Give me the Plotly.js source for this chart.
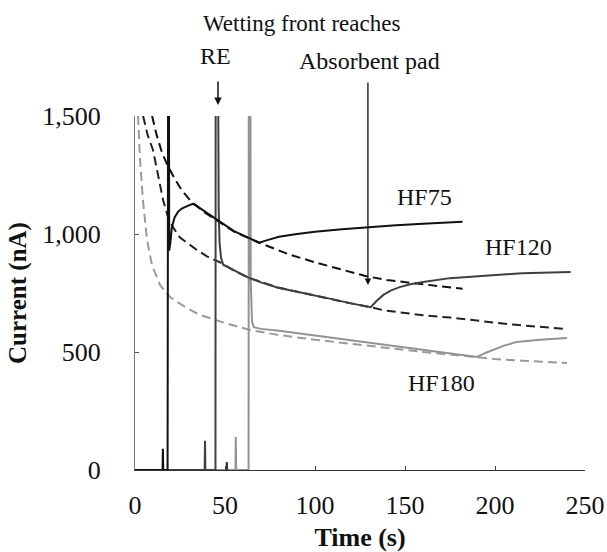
<!DOCTYPE html>
<html>
<head>
<meta charset="utf-8">
<script src="https://cdn.plot.ly/plotly-3.0.1.min.js"></script>
<style>html,body{margin:0;padding:0;background:#fff}#chart{width:607px;height:552px}</style>
</head>
<body>
<div id="chart"></div>
<script>
// ---- measured currents (nA) vs time (s) ----
const hf75Time = [0, 15.3, 15.5, 15.7, 18.1, 18.3, 18.6, 19.0, 19.6, 20.5, 22, 24, 26, 28, 30, 32, 34, 38, 45, 55, 62, 69, 74, 80, 90, 100, 115, 128, 145, 160, 174, 182];
const hf75Current = [0, 0, 90, 0, 0, 3000, 3000, 930, 960, 1030, 1070, 1095, 1108, 1115, 1120, 1128, 1120, 1100, 1062, 1012, 988, 963, 975, 988, 1000, 1010, 1020, 1028, 1037, 1043, 1048, 1052];

const hf120Time = [0, 38.7, 38.9, 39.1, 44.7, 44.9, 45.4, 46.0, 46.5, 47.0, 47.8, 49, 55, 63, 70, 79, 90, 100, 110, 120, 131, 134, 138, 142, 147, 153, 160, 175, 195, 215, 242];
const hf120Current = [0, 0, 124, 0, 0, 3000, 3000, 1500, 1100, 960, 900, 870, 845, 815, 795, 773, 755, 740, 723, 706, 690, 715, 742, 760, 775, 787, 797, 813, 825, 834, 839];

const hf180Time = [0, 55.8, 56.0, 56.2, 63.1, 63.3, 63.8, 64.3, 65, 66, 70, 80, 100, 130, 160, 180, 190, 195, 200, 205, 212, 225, 240];
const hf180Current = [0, 0, 140, 0, 0, 3000, 3000, 800, 630, 605, 598, 590, 570, 540, 510, 490, 479, 497, 513, 527, 542, 552, 559];

const noiseTime = [50.8, 51.0, 51.2];
const noiseCurrent = [0, 34, 0];

// ---- fitted decay curves (dashed) ----
const fit75Time = [9.5, 12, 15, 18, 22, 26, 31, 38, 45, 55, 69, 85, 100, 115, 128, 140, 155, 170, 182];
const fit75Current = [1500, 1420, 1345, 1292, 1235, 1185, 1140, 1095, 1060, 1010, 963, 915, 880, 850, 822, 805, 790, 778, 768];

const fit120Time = [4.5, 7, 10, 13, 15.6, 18, 21, 25, 30, 34.4, 40, 47, 55, 63, 80, 100, 120, 131, 138, 147, 160, 175, 190, 210, 240];
const fit120Current = [1500, 1420, 1356, 1240, 1144, 1080, 1030, 985, 955, 932, 905, 881, 845, 815, 772, 738, 706, 690, 677, 668, 656, 646, 632, 616, 597];

const fit180Time = [1.7, 2.8, 4.4, 6.7, 9.4, 13.9, 19.4, 27.8, 36.1, 50, 63.9, 80, 100, 130, 160, 190, 200, 215, 240];
const fit180Current = [1500, 1313, 1144, 975, 869, 784, 733, 691, 657, 623, 593, 572, 552, 525, 500, 478, 470, 463, 453];

const xTicks = [0, 50, 100, 150, 200, 250];
const yTicks = [0, 500, 1000, 1500];

const serif = 'Liberation Serif, Times New Roman, serif';
const dashStyle = '9px,5px';

const traces = [
  {x: fit180Time, y: fit180Current, mode: 'lines', line: {color: '#9a9a9a', width: 2, dash: dashStyle}},
  {x: fit120Time, y: fit120Current, mode: 'lines', line: {color: '#222222', width: 2, dash: dashStyle}},
  {x: fit75Time, y: fit75Current, mode: 'lines', line: {color: '#111111', width: 2, dash: dashStyle}},
  {x: hf180Time, y: hf180Current, mode: 'lines', line: {color: '#939393', width: 2}},
  {x: noiseTime, y: noiseCurrent, mode: 'lines', line: {color: '#333333', width: 2}},
  {x: hf120Time, y: hf120Current, mode: 'lines', line: {color: '#404040', width: 2}},
  {x: hf75Time, y: hf75Current, mode: 'lines', line: {color: '#111111', width: 2}}
];

const txt = (text, x, y, size, yref) => ({text: text, x: x, y: y, xref: 'x', yref: yref || 'y', showarrow: false,
  font: {family: serif, size: size, color: '#111'}, xanchor: 'center', yanchor: 'middle'});

const layout = {
  width: 607, height: 552,
  margin: {l: 135, r: 22, t: 116, b: 82},
  paper_bgcolor: '#fff', plot_bgcolor: '#fff',
  showlegend: false,
  font: {family: serif, color: '#111'},
  xaxis: {
    range: [0, 250], tickvals: xTicks, ticks: 'inside', ticklen: 4, tickcolor: '#444',
    showline: true, linecolor: '#333', linewidth: 1, showgrid: false, zeroline: false,
    layer: 'below traces', ticklabelstandoff: 12,
    tickfont: {family: serif, size: 26, color: '#111'},
    title: {text: '<b>Time (s)</b>', font: {family: serif, size: 26, color: '#111'}, standoff: 8}
  },
  yaxis: {
    range: [0, 1500], tickvals: yTicks, tickformat: ',d', ticks: 'inside', ticklen: 4, tickcolor: '#555',
    showline: true, linecolor: '#777', linewidth: 1, showgrid: false, zeroline: false,
    layer: 'below traces', ticklabelstandoff: 28,
    tickfont: {family: serif, size: 26, color: '#111'},
    title: {text: '<b>Current (nA)</b>', font: {family: serif, size: 25, color: '#111'}, standoff: 8}
  },
  annotations: [
    txt('Wetting front reaches', 92.5, 1.262, 23, 'paper'),
    txt('RE', 44.5, 1.17, 24, 'paper'),
    txt('Absorbent pad', 130, 1.155, 24, 'paper'),
    txt('HF75', 160.6, 1157, 24),
    txt('HF120', 212.8, 945, 24),
    txt('HF180', 170, 369, 24),
    {text: '', x: 46.1, y: 1.031, xref: 'x', yref: 'paper', showarrow: true, ax: 0, ay: -25,
     arrowhead: 2, arrowsize: 1, arrowwidth: 1.5, arrowcolor: '#111', standoff: 0},
    {text: '', x: 129.4, y: 784, xref: 'x', yref: 'y', showarrow: true, ax: 0, ay: -204,
     arrowhead: 2, arrowsize: 1, arrowwidth: 1.3, arrowcolor: '#111', standoff: 0}
  ]
};

Plotly.newPlot('chart', traces, layout, {displayModeBar: false, staticPlot: true});
</script>
</body>
</html>
